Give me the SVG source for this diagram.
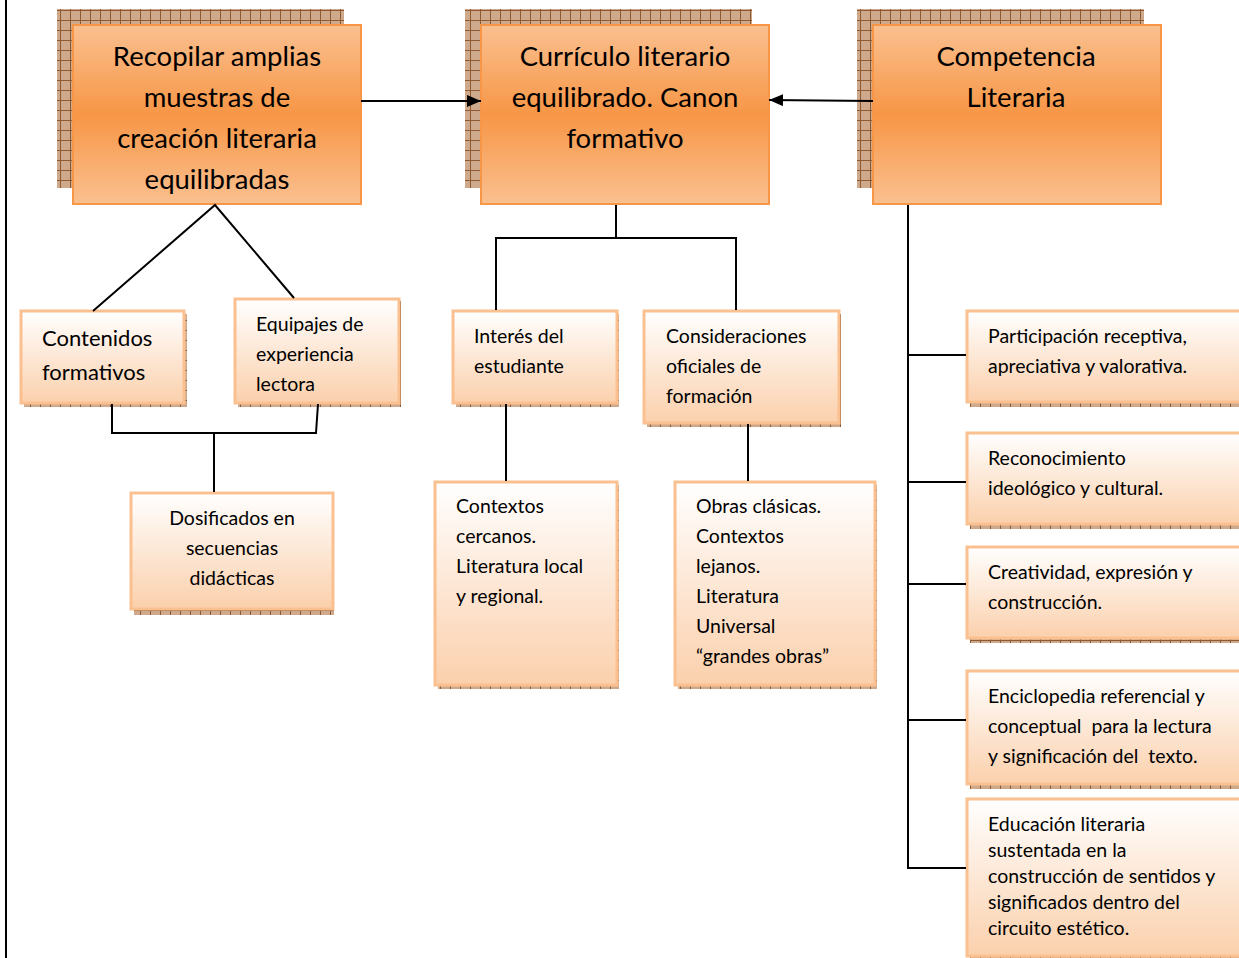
<svg xmlns="http://www.w3.org/2000/svg" width="1239" height="958" viewBox="0 0 1239 958">
<style>
.big{font-family:Lato,"Liberation Sans",sans-serif;font-size:27.5px;fill:#000;text-anchor:middle}
.sm{font-family:Lato,"Liberation Sans",sans-serif;font-size:19.5px;fill:#000;white-space:pre}
.md{font-family:Lato,"Liberation Sans",sans-serif;font-size:22px;fill:#000}
.bigbox{fill:url(#gBig);stroke:#f79646;stroke-width:2}
.smbox{fill:url(#gSm);stroke:#fac090;stroke-width:3}
.hatch{fill:url(#hatch)}
.ln{stroke:#000;stroke-width:2;fill:none}
</style>
<defs>
<linearGradient id="gBig" x1="0" y1="0" x2="0" y2="1">
<stop offset="0" stop-color="#fac090"/>
<stop offset="0.5" stop-color="#f79646"/>
<stop offset="1" stop-color="#fac090"/>
</linearGradient>
<linearGradient id="gSm" x1="0" y1="0" x2="0" y2="1">
<stop offset="0" stop-color="#ffffff"/>
<stop offset="1" stop-color="#fbd0ac"/>
</linearGradient>
<pattern id="hatch" width="10" height="10" patternUnits="userSpaceOnUse">
<rect width="10" height="10" fill="#cfa98c"/>
<path d="M0 0.5H10M0.5 0V10" stroke="#8f5a33" stroke-width="1"/>
</pattern>
<marker id="arr" viewBox="0 0 14 12" refX="14" refY="6" markerWidth="14" markerHeight="12" markerUnits="userSpaceOnUse" orient="auto">
<path d="M0 0L14 6L0 12z" fill="#000"/>
</marker>
</defs>
<rect width="1239" height="958" fill="#fff"/>
<line x1="6" y1="0" x2="6" y2="958" stroke="#000" stroke-width="2"/>

<g id="recopilar">
<rect class="hatch" x="57" y="9" width="287" height="179"/>
<rect class="bigbox" x="73" y="25" width="288" height="179"/>
<text class="big" x="217" y="66">Recopilar amplias</text>
<text class="big" x="217" y="107">muestras de</text>
<text class="big" x="217" y="148">creación literaria</text>
<text class="big" x="217" y="189">equilibradas</text>
</g>
<g id="curriculo">
<rect class="hatch" x="465" y="9" width="287" height="179"/>
<rect class="bigbox" x="481" y="25" width="288" height="179"/>
<text class="big" x="625" y="66">Currículo literario</text>
<text class="big" x="625" y="107">equilibrado. Canon</text>
<text class="big" x="625" y="148">formativo</text>
</g>
<g id="competencia">
<rect class="hatch" x="857" y="9" width="287" height="179"/>
<rect class="bigbox" x="873" y="25" width="288" height="179"/>
<text class="big" x="1016" y="66">Competencia</text>
<text class="big" x="1016" y="107">Literaria</text>
</g>

<g id="contenidos">
<rect class="hatch" x="24" y="314" width="163" height="93"/>
<rect class="smbox" x="21" y="311" width="163" height="92"/>
<text class="md" x="42" y="346">Contenidos</text>
<text class="md" x="42" y="380">formativos</text>
</g>
<g id="equipajes">
<rect class="hatch" x="238" y="301" width="163" height="106"/>
<rect class="smbox" x="235" y="299" width="164" height="104"/>
<text class="sm" x="256" y="331">Equipajes de</text>
<text class="sm" x="256" y="361">experiencia</text>
<text class="sm" x="256" y="391">lectora</text>
</g>
<g id="dosificados">
<rect class="hatch" x="134" y="496" width="200" height="119"/>
<rect class="smbox" x="131" y="493" width="202" height="116"/>
<text class="sm" x="232" y="525" text-anchor="middle">Dosificados en</text>
<text class="sm" x="232" y="555" text-anchor="middle">secuencias</text>
<text class="sm" x="232" y="585" text-anchor="middle">didácticas</text>
</g>
<g id="interes">
<rect class="hatch" x="456" y="314" width="163" height="93"/>
<rect class="smbox" x="453" y="311" width="164" height="92"/>
<text class="sm" x="474" y="343">Interés del</text>
<text class="sm" x="474" y="373">estudiante</text>
</g>
<g id="consideraciones">
<rect class="hatch" x="647" y="314" width="194" height="113"/>
<rect class="smbox" x="644" y="311" width="195" height="112"/>
<text class="sm" x="666" y="343">Consideraciones</text>
<text class="sm" x="666" y="373">oficiales de</text>
<text class="sm" x="666" y="403">formación</text>
</g>
<g id="contextos">
<rect class="hatch" x="438" y="485" width="181" height="204"/>
<rect class="smbox" x="435" y="482" width="182" height="203"/>
<text class="sm" x="456" y="513">Contextos</text>
<text class="sm" x="456" y="543">cercanos.</text>
<text class="sm" x="456" y="573">Literatura local</text>
<text class="sm" x="456" y="603">y regional.</text>
</g>
<g id="obras">
<rect class="hatch" x="678" y="485" width="199" height="204"/>
<rect class="smbox" x="675" y="482" width="200" height="203"/>
<text class="sm" x="696" y="513">Obras clásicas.</text>
<text class="sm" x="696" y="543">Contextos</text>
<text class="sm" x="696" y="573">lejanos.</text>
<text class="sm" x="696" y="603">Literatura</text>
<text class="sm" x="696" y="633">Universal</text>
<text class="sm" x="696" y="663">“grandes obras”</text>
</g>
<g id="participacion">
<rect class="hatch" x="970" y="314" width="275" height="93"/>
<rect class="smbox" x="967" y="311" width="280" height="91"/>
<text class="sm" x="988" y="343">Participación receptiva,</text>
<text class="sm" x="988" y="373">apreciativa y valorativa.</text>
</g>
<g id="reconocimiento">
<rect class="hatch" x="970" y="436" width="275" height="93"/>
<rect class="smbox" x="967" y="433" width="280" height="91"/>
<text class="sm" x="988" y="465">Reconocimiento</text>
<text class="sm" x="988" y="495">ideológico y cultural.</text>
</g>
<g id="creatividad">
<rect class="hatch" x="970" y="550" width="275" height="93"/>
<rect class="smbox" x="967" y="547" width="280" height="91"/>
<text class="sm" x="988" y="579">Creatividad, expresión y</text>
<text class="sm" x="988" y="609">construcción.</text>
</g>
<g id="enciclopedia">
<rect class="hatch" x="970" y="674" width="275" height="115"/>
<rect class="smbox" x="967" y="671" width="280" height="113"/>
<text class="sm" x="988" y="703">Enciclopedia referencial y</text>
<text class="sm" x="988" y="733">conceptual  para la lectura</text>
<text class="sm" x="988" y="763">y significación del  texto.</text>
</g>
<g id="educacion">
<rect class="hatch" x="970" y="802" width="275" height="160"/>
<rect class="smbox" x="967" y="799" width="280" height="157"/>
<text class="sm" x="988" y="831">Educación literaria</text>
<text class="sm" x="988" y="857">sustentada en la</text>
<text class="sm" x="988" y="883">construcción de sentidos y</text>
<text class="sm" x="988" y="909">significados dentro del</text>
<text class="sm" x="988" y="935">circuito estético.</text>
</g>

<g id="connectors">
<line class="ln" x1="361" y1="101" x2="481" y2="101" marker-end="url(#arr)"/>
<line class="ln" x1="873" y1="101" x2="769" y2="100" marker-end="url(#arr)"/>
<polyline class="ln" points="93,311 215,205 294,298"/>
<polyline class="ln" points="112,404 112,433 316,433 318,404"/>
<line class="ln" x1="214" y1="433" x2="214" y2="492"/>
<polyline class="ln" points="496,310 496,238 736,238 736,310"/>
<line class="ln" x1="616" y1="205" x2="616" y2="238"/>
<line class="ln" x1="506" y1="404" x2="506" y2="481"/>
<line class="ln" x1="748" y1="424" x2="748" y2="481"/>
<polyline class="ln" points="908,205 908,868 966,868"/>
<line class="ln" x1="908" y1="355" x2="966" y2="355"/>
<line class="ln" x1="908" y1="482" x2="966" y2="482"/>
<line class="ln" x1="908" y1="584" x2="966" y2="584"/>
<line class="ln" x1="908" y1="720" x2="966" y2="720"/>
</g>
</svg>
